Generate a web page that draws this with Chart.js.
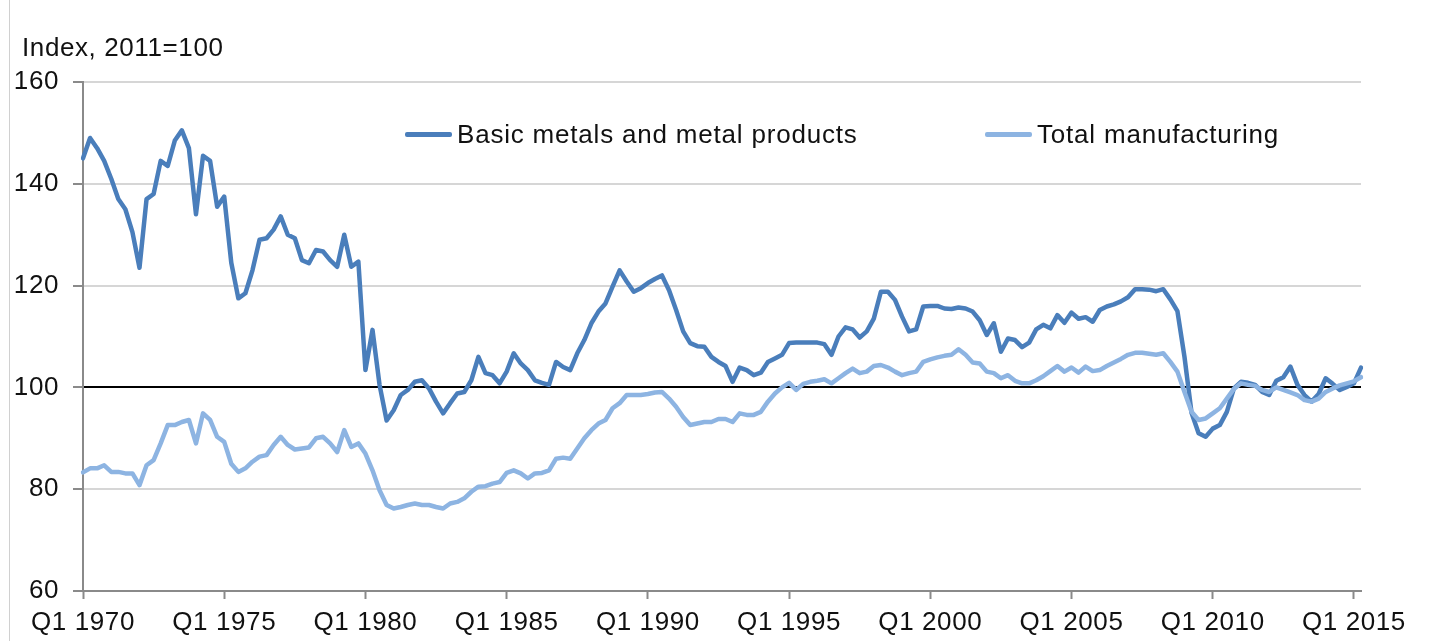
<!DOCTYPE html>
<html>
<head>
<meta charset="utf-8">
<title>Basic metals vs total manufacturing</title>
<script src="https://cdn.jsdelivr.net/npm/chart.js@4.4.1/dist/chart.umd.min.js"></script>
<style>
    body { margin: 0; background: #fff; }
    .wrap { position: relative; width: 1432px; height: 641px; font-family: "Liberation Sans", Arial, sans-serif; color: #111; }
    .edge { position: absolute; left: 9px; top: 0; width: 1px; height: 641px; background: #d0d0d0; }
    .unit { position: absolute; left: 22px; top: 31px; font-size: 26px; line-height: 32px; letter-spacing: 0.6px; }
    .key { position: absolute; top: 118px; height: 32px; display: flex; align-items: center; font-size: 26px; letter-spacing: 0.8px; }
    .key i { display: inline-block; width: 47px; height: 5px; margin-right: 5px; border-radius: 2px; }
    #chart { position: absolute; left: 0; top: 0; }
</style>
</head>
<body>
<div class="wrap">
    <canvas id="chart" width="1432" height="641"></canvas>
    <div class="edge"></div>
    <div class="unit">Index, 2011=100</div>
    <div class="key" style="left:405px"><i style="background:#4A7EBB"></i>Basic metals and metal products</div>
    <div class="key" style="left:985px"><i style="background:#8DB4E2"></i>Total manufacturing</div>
</div>
<script>
    // quarters Q1 1970 .. Q2 2015
    var quarters = [];
    for (var yr = 1970; yr <= 2015; yr++) {
        for (var qq = 1; qq <= 4; qq++) {
            if (yr === 2015 && qq > 2) break;
            quarters.push('Q' + qq + ' ' + yr);
        }
    }

    var metals = [
        145, 149, 147, 144.5, 141, 137, 135, 130.5, 123.5, 137,
        138, 144.5, 143.5, 148.5, 150.5, 147, 134, 145.5, 144.5, 135.5,
        137.5, 124.5, 117.5, 118.5, 123, 129, 129.3, 131, 133.6, 130,
        129.3, 125, 124.4, 127, 126.7, 125, 123.7, 130, 123.7, 124.7,
        103.4, 111.3, 100.5, 93.5, 95.5, 98.5, 99.5, 101.1, 101.4, 99.8,
        97.2, 94.9, 96.9, 98.8, 99.1, 101.4, 106, 102.8, 102.4, 100.8,
        103.1, 106.7, 104.7, 103.4, 101.4, 100.9, 100.5, 105, 104, 103.4,
        106.7, 109.3, 112.6, 114.9, 116.5, 119.8, 123, 120.8, 118.8, 119.5,
        120.5, 121.3, 122, 119.1, 115.2, 111, 108.7, 108.1, 108, 106,
        105, 104.2, 101.1, 103.9, 103.4, 102.4, 102.9, 105, 105.7, 106.4,
        108.7, 108.8, 108.8, 108.8, 108.8, 108.5, 106.4, 110, 111.8, 111.4,
        109.8, 111, 113.5, 118.8, 118.8, 117.2, 113.9, 111, 111.4, 115.9,
        116, 116, 115.5, 115.4, 115.7, 115.5, 114.9, 113.2, 110.3, 112.6,
        107, 109.6, 109.3, 107.9, 108.8, 111.4, 112.3, 111.6, 114.2, 112.7,
        114.7, 113.5, 113.8, 112.9, 115.2, 115.9, 116.3, 116.9, 117.7, 119.3,
        119.3, 119.2, 118.9, 119.3, 117.3, 115, 106, 95, 91, 90.3,
        91.9, 92.6, 95.2, 99.8, 101.1, 100.9, 100.5, 99.1, 98.5, 101.3,
        102, 104.1, 100.5, 98.5, 97.2, 98.7, 101.8, 100.7, 99.5, 100.1,
        100.8, 103.9
    ];

    var manufacturing = [
        83.3, 84.1, 84.1, 84.7, 83.4, 83.4, 83.1, 83.1, 80.8, 84.7,
        85.7, 89, 92.6, 92.6, 93.2, 93.6, 89, 94.9, 93.6, 90.3,
        89.3, 85, 83.4, 84.1, 85.4, 86.4, 86.7, 88.7, 90.3, 88.7,
        87.8, 88, 88.2, 90, 90.3, 89, 87.3, 91.6, 88.3, 89,
        87, 83.7, 79.8, 76.9, 76.2, 76.5, 76.9, 77.2, 76.9, 76.9,
        76.5, 76.2, 77.2, 77.5, 78.2, 79.5, 80.5, 80.6, 81.1, 81.4,
        83.2, 83.7, 83.1, 82.1, 83.1, 83.2, 83.7, 86, 86.2, 86,
        88, 90, 91.6, 92.9, 93.6, 95.9, 96.9, 98.5, 98.5, 98.5,
        98.7, 99, 99.1, 97.8, 96.2, 94.2, 92.6, 92.9, 93.2, 93.2,
        93.8, 93.8, 93.2, 94.9, 94.6, 94.6, 95.2, 97.2, 98.8, 100,
        100.9, 99.5, 100.7, 101.1, 101.3, 101.6, 100.8, 101.8, 102.8, 103.7,
        102.8, 103.1, 104.2, 104.4, 103.9, 103.1, 102.4, 102.8, 103.1, 105,
        105.5, 105.9, 106.2, 106.4, 107.5, 106.4, 104.9, 104.7, 103.1, 102.8,
        101.8, 102.4, 101.3, 100.8, 100.8, 101.4, 102.2, 103.2, 104.2, 103.1,
        103.9, 102.9, 104.1, 103.2, 103.4, 104.2, 104.9, 105.6, 106.4, 106.8,
        106.8, 106.6, 106.4, 106.7, 105, 103.1, 99.1, 95.2, 93.6, 93.9,
        94.9, 95.9, 97.8, 99.7, 100.8, 100.5, 100.3, 99.5, 99.1, 100,
        99.5, 99, 98.5, 97.5, 97.2, 97.8, 99.1, 99.8, 100.4, 100.8,
        101.2, 102
    ];

    var tickEvery = 20;
    var axisFont = { family: '"Liberation Sans", Arial, sans-serif', size: 26 };

    // slightly wider glyph spacing, like the original's axis text
    var spacing = {
        id: 'spacing',
        beforeDraw: function (chart) { chart.ctx.letterSpacing = '0.6px'; }
    };

    new Chart(document.getElementById('chart'), {
        type: 'line',
        data: {
            labels: quarters,
            datasets: [
                { label: 'Total manufacturing', data: manufacturing, borderColor: '#8DB4E2', borderWidth: 4.5 },
                { label: 'Basic metals and metal products', data: metals, borderColor: '#4A7EBB', borderWidth: 4.5 }
            ]
        },
        options: {
            responsive: false,
            animation: false,
            devicePixelRatio: 1,
            layout: { padding: { left: 0, top: 82, right: 71, bottom: 0 } },
            elements: { point: { radius: 0 }, line: { tension: 0, borderJoinStyle: 'round', borderCapStyle: 'round' } },
            plugins: { legend: { display: false }, tooltip: { enabled: false } },
            scales: {
                x: {
                    offset: false,
                    afterBuildTicks: function (axis) {
                        axis.ticks = axis.ticks.filter(function (t) { return t.value % tickEvery === 0; });
                    },
                    afterFit: function (axis) { axis.height = 50; },
                    ticks: { autoSkip: false, maxRotation: 0, color: '#111', font: axisFont, padding: 8 },
                    grid: { drawOnChartArea: false, tickLength: 8, tickColor: '#8a8a8a', tickWidth: 2 },
                    border: { color: '#8a8a8a', width: 2 }
                },
                y: {
                    min: 60,
                    max: 160,
                    afterFit: function (axis) { axis.width = 83; },
                    ticks: { stepSize: 20, color: '#111', font: axisFont, padding: 14 },
                    grid: {
                        color: function (c) { return c.tick && c.tick.value === 100 ? '#000' : '#d6d6d6'; },
                        lineWidth: 2,
                        tickLength: 10,
                        tickColor: '#8a8a8a',
                        tickWidth: 2
                    },
                    border: { color: '#8a8a8a', width: 2 }
                }
            }
        },
        plugins: [spacing]
    });
</script>
</body>
</html>
